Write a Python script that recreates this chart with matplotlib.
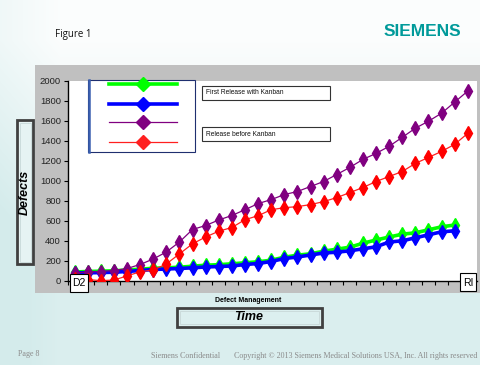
import numpy as np
import matplotlib
matplotlib.use("Agg")
import matplotlib.pyplot as plt
from matplotlib.patches import Rectangle
from matplotlib.lines import Line2D

# ---- data ----
green_vals = [90, 95, 98, 102, 110, 118, 127, 132, 138, 148, 158, 163, 172, 182, 192, 208,
              238, 258, 272, 298, 318, 338, 378, 410, 440, 468, 482, 512, 542, 560]
blue_vals = [80, 82, 84, 88, 95, 105, 115, 120, 125, 132, 140, 145, 150, 165, 175, 195,
             225, 240, 260, 280, 288, 302, 322, 342, 390, 402, 432, 462, 492, 502]
purple_vals = [80, 90, 95, 105, 125, 165, 220, 290, 390, 515, 555, 610, 655, 713, 774, 814,
               864, 895, 945, 995, 1065, 1136, 1216, 1276, 1347, 1437, 1528, 1598, 1678,
               1789, 1900]
red_vals = [25, 15, 3, 10, 50, 93, 110, 170, 271, 372, 440, 498, 535, 613, 653, 713, 733,
            744, 764, 794, 834, 884, 935, 995, 1045, 1095, 1176, 1236, 1296, 1367, 1477]
y_ticks = list(range(0, 2001, 200))
legend_labels = ["First Release with Kanban", "Release before Kanban"]

W, H = 480, 365
fig = plt.figure(figsize=(W / 100, H / 100), dpi=100)

def fx(px):
    return px / W

def fy(py):
    return 1 - py / H

# background gradient
bg = fig.add_axes([0, 0, 1, 1], zorder=-10)
yy, xx = np.mgrid[0:H, 0:W]
t = np.clip((yy - 40) / 200.0, 0, 1) * 0.85 + np.clip((60 - xx) / 60.0, 0, 1) * 0.3
t = np.clip(t, 0, 1)
top = np.array([0.985, 0.993, 0.993])
bot = np.array([0.835, 0.925, 0.925])
img = top[None, None, :] * (1 - t[..., None]) + bot[None, None, :] * t[..., None]
bg.imshow(img, extent=[0, W, H, 0], aspect='auto')
bg.set_xlim(0, W)
bg.set_ylim(H, 0)
bg.axis('off')

# gray chart area
bg.add_patch(Rectangle((35, 65), W - 35, 293 - 65, facecolor='#c0c0c0', edgecolor='none'))

# texts
bg.text(55, 35, "Figure 1", fontsize=7, family=['Open Sans', 'DejaVu Sans'], va='center', ha='left', color='#111111')
bg.text(461, 31, "SIEMENS", fontsize=12.5, family=['Liberation Sans', 'DejaVu Sans'], fontweight='bold',
        va='center', ha='right', color='#009a9a')

# plot axes
ax = fig.add_axes([fx(68), fy(281), fx(477) - fx(68), fy(81) - fy(281)])
ax.set_facecolor('white')
x_g = np.arange(len(green_vals))
x_p = np.arange(len(purple_vals))
ms = 6.8
ax.plot(x_g, green_vals, color='#00ff00', lw=2.6, marker='d', ms=ms, mec='#00ff00', mfc='#00ff00', zorder=3)
ax.plot(x_g, blue_vals, color='#0000ff', lw=2.6, marker='d', ms=ms, mec='#0000ff', mfc='#0000ff', zorder=4)
ax.plot(x_p, purple_vals, color='#800080', lw=0.9, marker='d', ms=ms, mec='#800080', mfc='#800080', zorder=5)
ax.plot(x_p, red_vals, color='#ff2020', lw=0.9, marker='d', ms=ms, mec='#ff0000', mfc='#ff0000', zorder=6)
ax.set_xlim(-0.5, len(purple_vals) - 0.3)
ax.set_ylim(0, 2000)
ax.set_yticks(y_ticks)
ax.set_yticklabels([str(v) for v in y_ticks], fontsize=6.8, color='#222222',
                   family=['Liberation Sans Narrow', 'Liberation Sans', 'DejaVu Sans'])
ax.set_xticks(np.arange(-0.5, len(purple_vals), 1.0))
ax.set_xticklabels([])
ax.tick_params(axis='y', length=3, width=0.8, pad=2, direction='out')
ax.tick_params(axis='x', length=3, width=0.8, direction='out')
for s in ['top', 'right']:
    ax.spines[s].set_visible(False)
for s in ['left', 'bottom']:
    ax.spines[s].set_linewidth(1.0)
    ax.spines[s].set_color('black')

# overlay for boxes on top
ov = fig.add_axes([0, 0, 1, 1], zorder=10)
ov.set_xlim(0, W)
ov.set_ylim(H, 0)
ov.axis('off')
ov.patch.set_alpha(0)

# D2 / RI boxes
ov.add_patch(Rectangle((70, 274), 18, 18, facecolor='white', edgecolor='black', lw=0.8))
ov.text(79, 283.5, "D2", fontsize=7.5, ha='center', va='center', family=['Liberation Sans', 'DejaVu Sans'])
ov.add_patch(Rectangle((460, 273), 16, 18, facecolor='white', edgecolor='black', lw=0.8))
ov.text(468, 282.5, "RI", fontsize=7.5, ha='center', va='center', family=['Liberation Sans', 'DejaVu Sans'])

# legend box
ov.add_patch(Rectangle((88, 80), 107, 72, facecolor='white', edgecolor='#1f2f6f', lw=0.8))
ov.add_line(Line2D([88.5, 88.5], [80, 152], color='#3a5fb0', lw=1.8))
leg_specs = [(84, '#00ff00', 2.6), (104, '#0000ff', 2.6), (122, '#800080', 0.9), (142, '#ff2020', 0.9)]
for yl, col, lw in leg_specs:
    ov.add_line(Line2D([109, 177], [yl, yl], color=col, lw=lw))
    ov.add_line(Line2D([143], [yl], color=col, marker='D', ms=7.5, mec=col, mfc=col, lw=0))

# legend label boxes
for (yb, lab) in [(86, legend_labels[0]), (127, legend_labels[1])]:
    ov.add_patch(Rectangle((202, yb), 128, 14, facecolor='white', edgecolor='#333333', lw=0.8))
    ov.text(206, yb + 7, lab, fontsize=4.8, ha='left', va='center', color='#111111',
            family=['Liberation Sans', 'DejaVu Sans'])

# Defects box
ov.add_patch(Rectangle((17, 120), 16, 144, facecolor='#e6f3f3', edgecolor='#404040', lw=2.0))
ov.add_patch(Rectangle((19.5, 122.5), 11, 139, facecolor='none', edgecolor='#c8d8d8', lw=0.6))
ov.text(25, 192, "Defects", fontsize=9, fontweight='bold', fontstyle='italic', rotation=90,
        ha='center', va='center', family=['Liberation Sans', 'DejaVu Sans'])

# x labels
ov.text(248, 301, "Defect Management", fontsize=5, fontweight='bold', ha='center', va='center',
        family=['Liberation Sans', 'DejaVu Sans'])
ov.add_patch(Rectangle((177, 308), 145, 19, facecolor='#dcefef', edgecolor='#404040', lw=2.0))
ov.add_patch(Rectangle((180, 311), 139, 13, facecolor='none', edgecolor='#c8d8d8', lw=0.6))
ov.text(249, 317.5, "Time", fontsize=9, fontweight='bold', fontstyle='italic', ha='center', va='center',
        family=['Liberation Sans', 'DejaVu Sans'])

# footer
ov.text(18, 354, "Page 8", fontsize=5.8, ha='left', va='center', color='#8a8a8a',
        family=['Liberation Serif', 'DejaVu Serif'])
ov.text(151, 356, "Siemens Confidential", fontsize=5.8, ha='left', va='center', color='#8a8a8a',
        family=['Liberation Serif', 'DejaVu Serif'])
ov.text(234, 356, "Copyright \u00a9 2013 Siemens Medical Solutions USA, Inc. All rights reserved",
        fontsize=5.8, ha='left', va='center', color='#8a8a8a', family=['Liberation Serif', 'DejaVu Serif'])

fig.savefig("out.png", dpi=100)
